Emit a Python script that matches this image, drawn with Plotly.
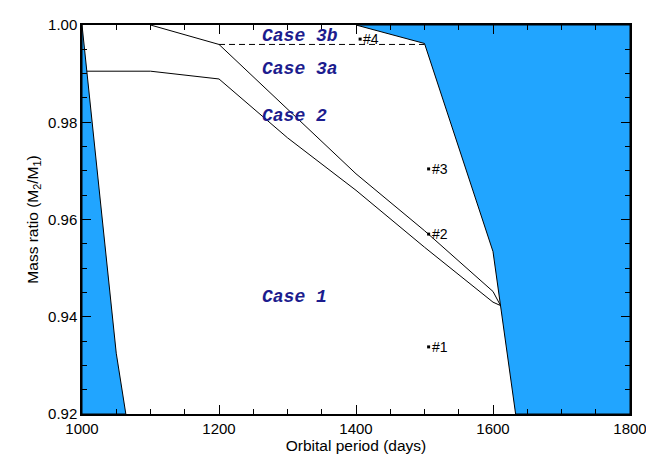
import plotly.graph_objects as go

# Forbidden regions (blue)
left_region_x = [1000, 1050, 1064, 1000, 1000]
left_region_y = [1.0, 0.9325, 0.92, 0.92, 1.0]
right_region_x = [1400, 1500, 1600, 1633, 1800, 1800, 1400]
right_region_y = [1.0, 0.9962, 0.9534, 0.92, 0.92, 1.0, 1.0]

# Boundary lines
upper_x = [1100, 1200, 1400, 1500, 1600, 1611]
upper_y = [1.0, 0.996, 0.9694, 0.9577, 0.9452, 0.9423]
lower_x = [1007, 1100, 1200, 1300, 1400, 1500, 1600, 1611]
lower_y = [0.9905, 0.9905, 0.9889, 0.9768, 0.9660, 0.9543, 0.9430, 0.9423]
dash_x = [1200, 1500]
dash_y = [0.996, 0.996]

# Systems
sys_x = [1506, 1506, 1506, 1406]
sys_y = [0.9338, 0.9570, 0.9704, 0.9971]
sys_labels = ["#1", "#2", "#3", "#4"]

# Case labels
case_labels = ["Case 3b", "Case 3a", "Case 2", "Case 1"]
case_x = [1260, 1260, 1260, 1260]
case_y = [0.9978, 0.9910, 0.9813, 0.9441]

blue = "#21a5ff"
fig = go.Figure()
for xs, ys in [(left_region_x, left_region_y), (right_region_x, right_region_y)]:
    fig.add_trace(go.Scatter(x=xs, y=ys, mode="lines", fill="toself", fillcolor=blue,
                             line=dict(color="black", width=1), hoverinfo="skip"))
fig.add_trace(go.Scatter(x=upper_x, y=upper_y, mode="lines", line=dict(color="black", width=1)))
fig.add_trace(go.Scatter(x=lower_x, y=lower_y, mode="lines", line=dict(color="black", width=1)))
fig.add_trace(go.Scatter(x=dash_x, y=dash_y, mode="lines",
                         line=dict(color="black", width=1, dash="6px,4px")))
fig.add_trace(go.Scatter(x=sys_x, y=sys_y, mode="markers",
                         marker=dict(symbol="square", size=3, color="black")))
for t, x, y in zip(sys_labels, sys_x, sys_y):
    fig.add_annotation(x=x, y=y, text=t, showarrow=False, xanchor="left", yanchor="middle",
                       xshift=1, font=dict(family="Liberation Sans", size=14, color="black"))

for t, x, y in zip(case_labels, case_x, case_y):
    fig.add_annotation(x=x, y=y, text="<b><i>" + t + "</i></b>", showarrow=False,
                       xanchor="left", yanchor="middle",
                       font=dict(family="Liberation Mono", size=18, color="#1c1c8e"))

axis_common = dict(showline=True, linecolor="black", linewidth=1.5, mirror="allticks",
                   ticks="inside", ticklen=9, tickwidth=1, tickcolor="black",
                   showgrid=False, zeroline=False, automargin=False,
                   tickfont=dict(family="Liberation Sans", size=15, color="black"))
fig.update_xaxes(range=[1000, 1800], tick0=1000, dtick=200,
                 minor=dict(ticks="inside", ticklen=5, dtick=50, tickcolor="black", showgrid=False),
                 title=dict(text="Orbital period (days)", standoff=4,
                            font=dict(family="Liberation Sans", size=15.5, color="black")),
                 **axis_common)
fig.update_yaxes(range=[0.92, 1.0], tick0=0.92, dtick=0.02, tickformat=".2f",
                 minor=dict(ticks="inside", ticklen=5, dtick=0.005, tickcolor="black", showgrid=False),
                 title=dict(text="Mass ratio (M<sub>2</sub>/M<sub>1</sub>)", standoff=6,
                            font=dict(family="Liberation Sans", size=15.5, color="black")),
                 **axis_common)
# page body has an 8px default margin, so the figure is sized/offset to compensate
fig.update_layout(width=646, height=459, showlegend=False,
                  plot_bgcolor="white", paper_bgcolor="white",
                  margin=dict(l=74, r=24, t=17, b=53))
fig.write_html("out.html")
